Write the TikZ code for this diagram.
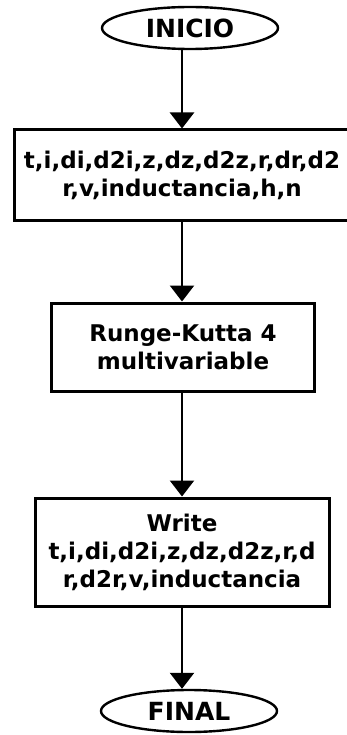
\documentclass[tikz,border=0pt]{standalone}
\usepackage{fontspec}
\setmainfont{DejaVu Sans}
\usetikzlibrary{shapes.geometric,arrows.meta}
\begin{document}
\begin{tikzpicture}[x=1pt,y=-1pt,
  term/.style={ellipse, draw, line width=2.4pt, minimum width=176pt,
    minimum height=42pt, inner sep=0pt,
    font=\fontsize{25}{28}\selectfont\bfseries},
  proc/.style={rectangle, draw, line width=3pt, inner sep=0pt, align=center,
    font=\fontsize{23}{28}\selectfont\bfseries},
  arr/.style={line width=2.4pt, -{Triangle[width=24pt,length=16pt]}}]
\useasboundingbox (0,0) rectangle (347,735);

% terminals and process boxes
\node[term] (start) at (190,28) {INICIO};
\node[proc, minimum width=336pt, minimum height=90pt] (data) at (182,175)
  {t,i,di,d2i,z,dz,d2z,r,dr,d2\\r,v,inductancia,h,n};
\node[proc, minimum width=263pt, minimum height=88pt] (rk) at (183,347)
  {Runge-Kutta 4\\multivariable};
\node[proc, minimum width=294pt, minimum height=108pt] (out) at (182,552)
  {Write\\t,i,di,d2i,z,dz,d2z,r,d\\r,d2r,v,inductancia};
\node[term] (stop) at (189,711) {FINAL};

% flow
\draw[arr] (data.north |- start.south) -- (data.north);
\draw[arr] (data.south) -- (data.south |- rk.north);
\draw[arr] (out.north |- rk.south) -- (out.north);
\draw[arr] (out.south) -- (out.south |- stop.north);
\end{tikzpicture}
\end{document}
